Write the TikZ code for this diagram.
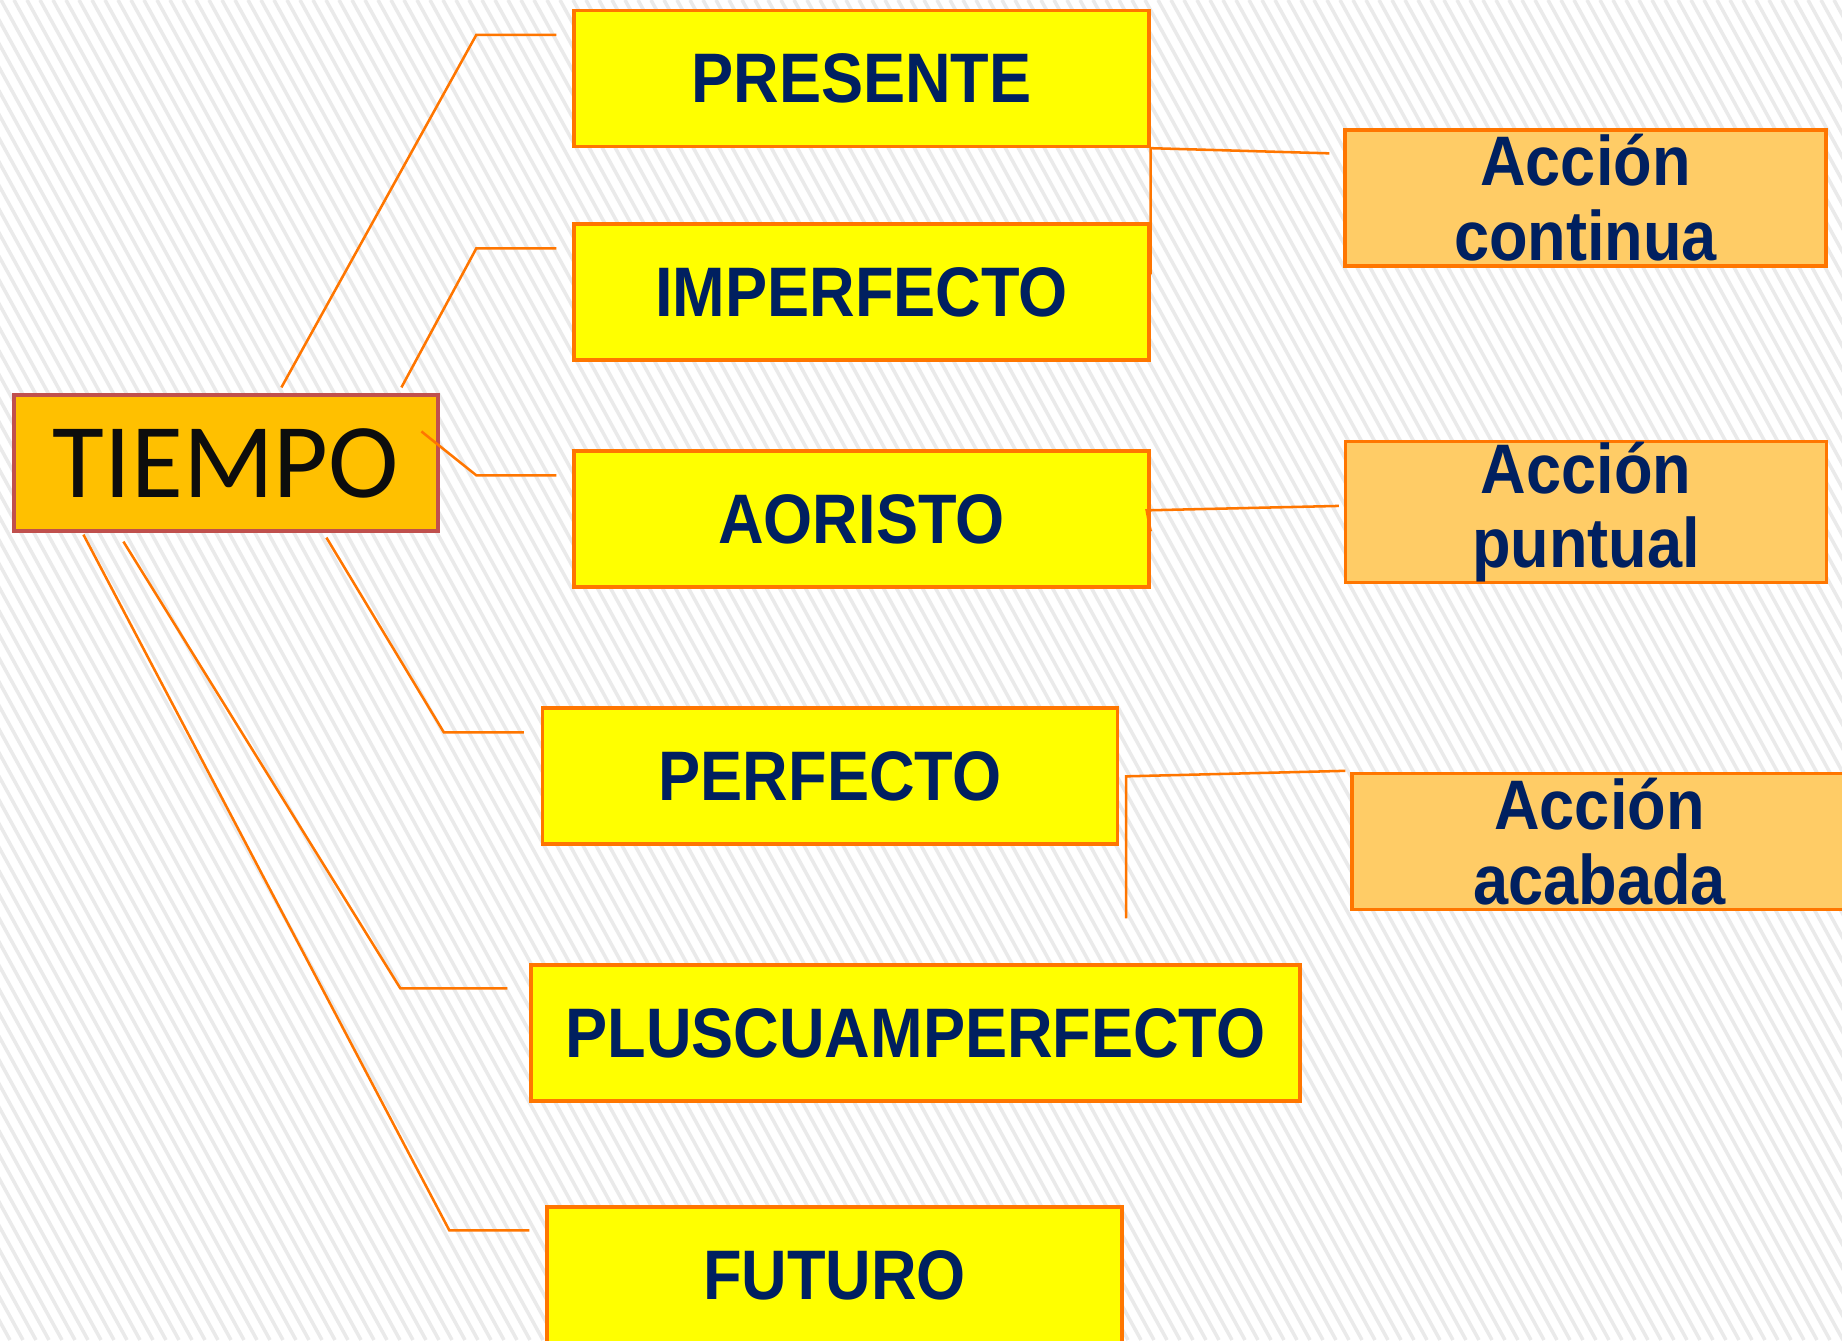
\documentclass[tikz,border=0pt]{standalone}
\usepackage{fontspec}
\newfontfamily\boxfont{Liberation Sans}[FakeStretch=0.9]
\newfontfamily\tiempofont{Carlito}
\usetikzlibrary{calc}
\definecolor{tiempofill}{RGB}{255,192,0}
\definecolor{tiemporim}{RGB}{192,80,77}
\definecolor{boxrim}{RGB}{255,118,0}
\definecolor{boxfill}{RGB}{255,255,0}
\definecolor{accionfill}{RGB}{255,204,102}
\definecolor{navytext}{RGB}{0,32,96}
\definecolor{stripegray}{RGB}{234,234,234}
\tikzset{
    tiempobox/.style={draw=tiemporim, fill=tiempofill, line width=0.9pt, inner sep=0pt,
        minimum width=42.4mm, minimum height=13.6mm,
        font=\tiempofont\fontsize{30.2pt}{32pt}\selectfont, text=black!95},
    tensebox/.style={draw=boxrim, fill=boxfill, line width=0.95pt, inner sep=0pt,
        minimum width=57.5mm, minimum height=13.6mm,
        font=\boxfont\bfseries\fontsize{19.95pt}{21.3pt}\selectfont, text=navytext},
    accionbox/.style={tensebox, fill=accionfill, minimum width=48.1mm, align=center},
    link/.style={draw=boxrim, line width=0.72pt},
    stripe/.style={draw=stripegray, line width=1pt}
}
\begin{document}
\begin{tikzpicture}[x=0.1mm, y=-0.1mm]
                    \useasboundingbox (0,0) rectangle (1842,1340);
                    \fill[white] (0,0) rectangle (1842,1340);
                    \begin{scope}
                        \clip (0,0) rectangle (1842,1340);
                        \foreach \i in {-740,-727,...,1842}
                            \draw[stripe] (\i,0) -- ++(737,1340);
                    \end{scope}
                    \node[tiempobox] (tiempo) at (226,463) {TIEMPO};
                    \node[tensebox] (presente) at (861.5,78.5) {PRESENTE};
                    \node[tensebox] (imperfecto) at (861.5,292) {IMPERFECTO};
                    \node[tensebox] (aoristo) at (861.5,519) {AORISTO};
                    \node[tensebox] (perfecto) at (830,776) {PERFECTO};
                    \node[tensebox, minimum width=76.9mm] (pluscuam) at (915.5,1033) {PLUSCUAMPERFECTO};
                    \node[tensebox] (futuro) at (834.5,1275) {FUTURO};
                    \node[accionbox] (continua) at (1585.5,198) {Acción\\continua};
                    \node[accionbox] (puntual) at (1586,512) {Acción\\puntual};
                    \node[accionbox, minimum width=49.5mm] (acabada) at (1599.5,841.5) {Acción\\acabada};
                    \begin{scope}[link]
                        \draw ($(tiempo.north west)+(269,-6)$) -- ($(presente.north west)+(-96,26)$) -- ($(presente.north west)+(-16,26)$);
                        \draw ($(tiempo.north west)+(389,-6)$) -- ($(imperfecto.north west)+(-96,26)$) -- ($(imperfecto.north west)+(-16,26)$);
                        \draw ($(tiempo.north west)+(409,38)$) -- ($(aoristo.north west)+(-96,26)$) -- ($(aoristo.north west)+(-16,26)$);
                        \draw ($(tiempo.south west)+(314,5)$) -- ($(perfecto.north west)+(-97,26)$) -- ($(perfecto.north west)+(-17,26)$);
                        \draw ($(tiempo.south west)+(111,9)$) -- ($(pluscuam.north west)+(-129,25)$) -- ($(pluscuam.north west)+(-22,25)$);
                        \draw ($(tiempo.south west)+(71,2)$) -- ($(futuro.north west)+(-96,25)$) -- ($(futuro.north west)+(-16,25)$);
                        \draw ($(imperfecto.north east)+(0,52)$) -- (presente.south east) -- ($(continua.north west)+(-14,25)$);
                        \draw ($(puntual.north west)+(-5,66)$) -- ($(aoristo.north east)+(-4,61)$) -- ($(aoristo.north east)+(0,82)$);
                        \draw ($(acabada.north west)+(-5,-1)$) -- ($(perfecto.north east)+(7,70)$) -- ($(perfecto.north east)+(7,212)$);
                    \end{scope}
                \end{tikzpicture}
\end{document}
